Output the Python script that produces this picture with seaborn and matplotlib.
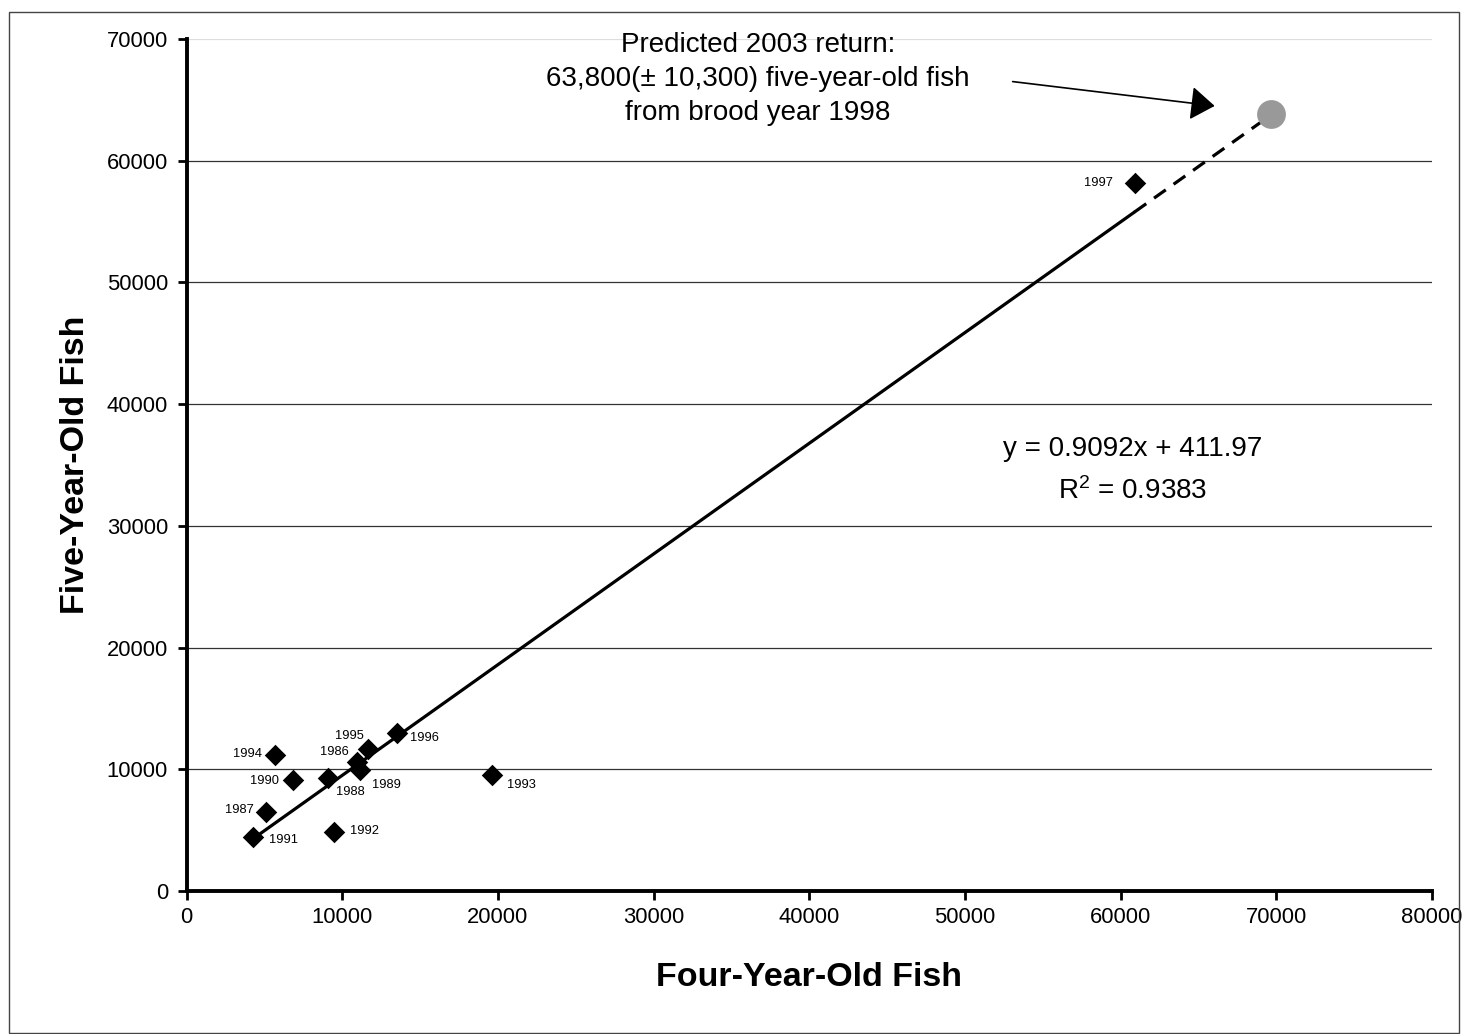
import matplotlib
matplotlib.use("Agg")
import matplotlib.pyplot as plt
from matplotlib.patches import Rectangle
import numpy as np
import pandas as pd
import seaborn as sns

# Brood-year returns: four-year-old vs five-year-old fish
brood_years = [1986, 1987, 1988, 1989, 1990, 1991, 1992, 1993, 1994, 1995, 1996, 1997]
four_year_old = [10920, 5090, 9090, 11130, 6810, 4280, 9460, 19650, 5670, 11620, 13490, 60900]
five_year_old = [10620, 6520, 9260, 9940, 9120, 4460, 4870, 9530, 11170, 11640, 12960, 58150]

# Fitted regression and forecast
slope = 0.9092
intercept = 411.97
r_squared = 0.9383
pred_four = 69700
pred_five = 63800

x_ticks = [0, 10000, 20000, 30000, 40000, 50000, 60000, 70000, 80000]
y_ticks = [0, 10000, 20000, 30000, 40000, 50000, 60000, 70000]

df = pd.DataFrame({"year": brood_years, "four": four_year_old, "five": five_year_old})

sns.set_theme(style="white")
plt.rcParams["font.family"] = ["Liberation Sans", "DejaVu Sans"]
plt.rcParams["mathtext.fontset"] = "custom"
plt.rcParams["mathtext.rm"] = "Liberation Sans"
plt.rcParams["mathtext.it"] = "Liberation Sans"

fig = plt.figure(figsize=(14.64, 10.34), dpi=100)
ax = fig.add_axes([0.1275, 0.1383, 0.978 - 0.1275, 0.9623 - 0.1383])

# horizontal gridlines
for yv in y_ticks[1:-1]:
    ax.axhline(yv, color="#333333", lw=0.9, zorder=0)
ax.axhline(y_ticks[-1], color="#dddddd", lw=0.9, zorder=0)

# regression line over the observed range, then dashed out to the forecast
x_fit = np.array([min(four_year_old), max(four_year_old)])
x_ext = np.array([max(four_year_old), pred_four])
sns.lineplot(x=x_fit, y=slope * x_fit + intercept, color="black", lw=2.3, ax=ax, zorder=2)
ax.plot(x_ext, slope * x_ext + intercept, color="black", lw=2.3,
        linestyle=(0, (4.5, 3)), zorder=2)

sns.scatterplot(data=df, x="four", y="five", marker="D", s=120, color="black",
                linewidth=0, ax=ax, zorder=3)
sns.scatterplot(x=[pred_four], y=[pred_five], marker="o", s=430, color="#999999",
                linewidth=0, ax=ax, zorder=3)

# year labels (offsets in points)
label_offsets = {
    1986: (-16, 7), 1987: (-19, 1), 1988: (16, -10), 1989: (19, -11),
    1990: (-20, -1), 1991: (22, -2.5), 1992: (22, 0.5), 1993: (21, -7),
    1994: (-20, 1), 1995: (-13, 9.5), 1996: (20, -3.5), 1997: (-26, 0.5),
}
for yr, xv, yv in zip(brood_years, four_year_old, five_year_old):
    dx, dy = label_offsets[yr]
    ax.annotate(str(yr), xy=(xv, yv), xytext=(dx, dy), textcoords="offset points",
                ha="center", va="center", fontsize=9.3, color="black")

# forecast note and arrow
ax.text(36720, 66700,
        "Predicted 2003 return:\n63,800(\u00b1 10,300) five-year-old fish\nfrom brood year 1998",
        ha="center", va="center", fontsize=20, linespacing=1.41, color="black")
ax.annotate("", xy=(66050, 64500), xytext=(53070, 66500),
            arrowprops=dict(arrowstyle="-|>,head_length=15,head_width=10.5",
                            mutation_scale=1, color="black", lw=1.2,
                            shrinkA=0, shrinkB=0))

# regression equation
ax.text(60800, 36320, f"y = {slope}x + {intercept}", ha="center", va="center",
        fontsize=20, color="black")
ax.text(60800, 32870, f"R$^2$ = {r_squared}", ha="center", va="center",
        fontsize=20, color="black")

ax.set_xlim(0, 80000)
ax.set_ylim(0, 70000)
ax.set_xticks(x_ticks)
ax.set_yticks(y_ticks)
ax.set_xticklabels([str(v) for v in x_ticks])
ax.set_yticklabels([str(v) for v in y_ticks])
ax.tick_params(axis="both", direction="out", length=6.5, width=2, color="black",
               labelsize=15.8, labelcolor="black", bottom=True, left=True)
ax.tick_params(axis="y", pad=7)
ax.tick_params(axis="x", pad=5)

for side in ["top", "right"]:
    ax.spines[side].set_visible(False)
for side in ["left", "bottom"]:
    ax.spines[side].set_color("black")
    ax.spines[side].set_linewidth(2.8)

ax.set_xlabel("Four-Year-Old Fish", fontsize=24.5, fontweight="bold", labelpad=24.5, color="black")
ax.set_ylabel("Five-Year-Old Fish", fontsize=24.5, fontweight="bold", labelpad=11, color="black")

# outer chart border
fig.patches.append(Rectangle((8.5 / 1464, 1 / 1034), (1459 - 8.5) / 1464, (1033 - 11.5) / 1034,
                             transform=fig.transFigure, fill=False, edgecolor="#444444", lw=1))

fig.savefig("out.png", dpi=100)
